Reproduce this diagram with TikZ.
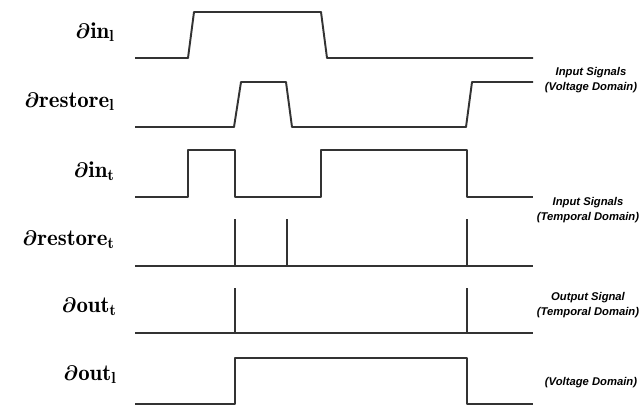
\documentclass[tikz,border=0pt]{standalone}
\usepackage{amsmath}
\usepackage{fontspec}
\newfontfamily\notefont{Liberation Sans}
\usetikzlibrary{calc}

\begin{document}
\begin{tikzpicture}[x=0.02cm, y=-0.02cm,
  wave/.style={line width=1.1pt, draw=black!80, line join=round},
  sig/.style={anchor=base east, inner sep=0pt, font=\fontsize{13}{15}\selectfont},
  note/.style={align=center, inner sep=0pt,
    font=\notefont\bfseries\itshape\fontsize{6.4}{8.5}\selectfont}]
\useasboundingbox (0,0) rectangle (641,406);
% edge times (pixels from the left)
\def\tS{135}
\def\tA{188}
\def\tB{235}
\def\tC{287}
\def\tD{321}
\def\tE{467}
\def\tF{533}
\def\rmp{6}

% signal names
\node[sig] (inL) at (115,38) {$\boldsymbol{\partial}\mathbf{in}_{\mathbf{l}}$};
\node[sig] (restoreL) at (115,107) {$\boldsymbol{\partial}\mathbf{restore}_{\mathbf{l}}$};
\node[sig] (inT) at (115,177) {$\boldsymbol{\partial}\mathbf{in}_{\mathbf{t}}$};
\node[sig] (restoreT) at (115,245) {$\boldsymbol{\partial}\mathbf{restore}_{\mathbf{t}}$};
\node[sig] (outT) at (117,312) {$\boldsymbol{\partial}\mathbf{out}_{\mathbf{t}}$};
\node[sig] (outL) at (117,380) {$\boldsymbol{\partial}\mathbf{out}_{\mathbf{l}}$};

% voltage domain inputs
\draw[wave] (\tS,58) -- (\tA,58) -- (\tA+\rmp,12) -- (\tD,12) -- (\tD+\rmp,58) -- (\tF,58);
\draw[wave] (\tS,127) -- (\tB-1,127) -- (\tB+\rmp,82) -- (\tC-1,82) -- (\tC+\rmp-1,127)
  -- (\tE-1,127) -- (\tE+\rmp-1,82) -- (\tF,82);

% temporal domain inputs
\draw[wave] (\tS,197) -- (\tA,197) -- (\tA,150) -- (\tB,150) -- (\tB,197) -- (\tD,197)
  -- (\tD,150) -- (\tE,150) -- (\tE,197) -- (\tF,197);
\draw[wave] (\tS,266) -- (\tF,266);
\foreach \t in {\tB,\tC,\tE}
  \draw[wave] (\t,266) -- (\t,219);

% outputs
\draw[wave] (\tS,333) -- (\tF,333);
\foreach \t in {\tB,\tE}
  \draw[wave] (\t,333) -- (\t,288);
\draw[wave] (\tS,404) -- (\tB,404) -- (\tB,358) -- (\tE,358) -- (\tE,404) -- (\tF,404);

% domain notes
\node[note] (vin) at (591,80) {Input Signals\\(Voltage Domain)};
\node[note] (tin) at (588,210) {Input Signals\\(Temporal Domain)};
\node[note] (tout) at (588,305) {Output Signal\\(Temporal Domain)};
\node[note] (vout) at (591,383) {(Voltage Domain)};
\end{tikzpicture}
\end{document}
